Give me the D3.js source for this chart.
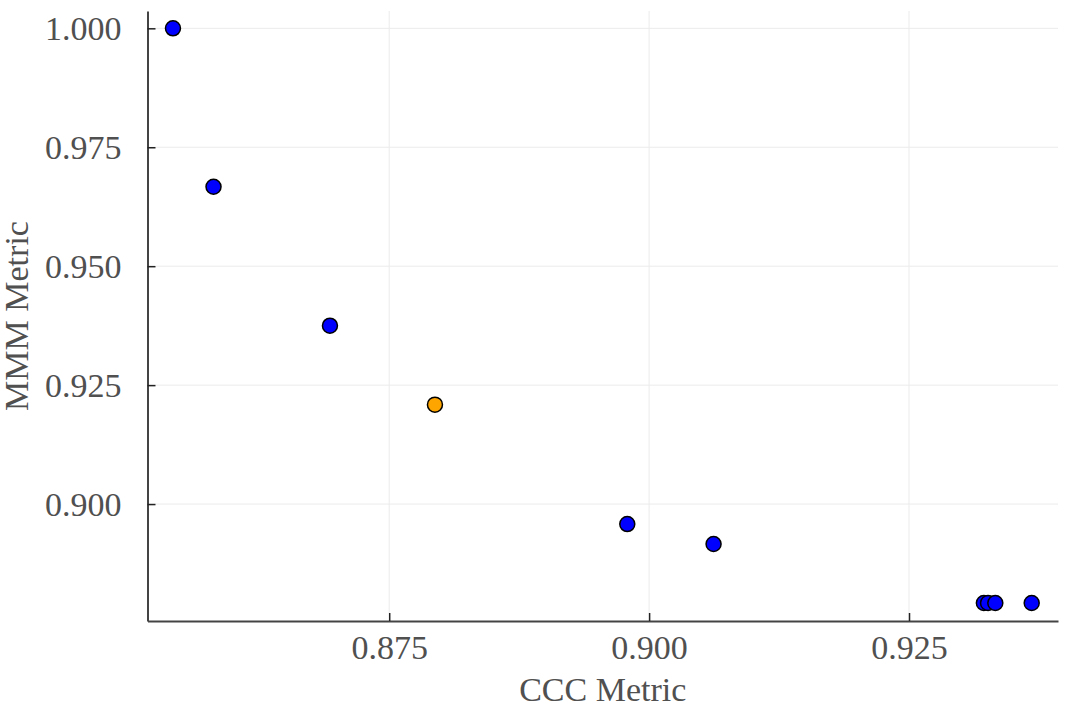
<!DOCTYPE html>
<html>
<head>
  <script src="https://d3js.org/d3.v7.min.js"></script>
  <style>
    body { margin: 0; background: #fff; }
    svg text { font-family: "Liberation Serif", "DejaVu Serif", serif; fill: #505050; }
  </style>
</head>
<body>
  <script>
    // CCC vs MMM values
    var cccValues = [0.8542, 0.8581, 0.8693, 0.8794, 0.8979, 0.9062, 0.9322, 0.9326, 0.9333, 0.9368];
    var mmmValues = [1.0000, 0.9667, 0.9375, 0.9209, 0.8958, 0.8916, 0.8792, 0.8792, 0.8792, 0.8792];
    var highlight = [false, false, false, true, false, false, false, false, false, false];
    var xTicks = [0.875, 0.900, 0.925];
    var yTicks = [0.900, 0.925, 0.950, 0.975, 1.000];

    var width = 1076, height = 727;
    var plotLeft = 147.5, plotRight = 1058, plotTop = 11, plotBottom = 621;

    var x = d3.scaleLinear().domain([0.85175, 0.93933]).range([plotLeft, plotRight]);
    var y = d3.scaleLinear().domain([0.87542, 1.00364]).range([plotBottom, plotTop]);

    var svg = d3.select("body").append("svg")
      .attr("width", width)
      .attr("height", height);

    // grid
    svg.append("g").selectAll("line").data(xTicks).enter().append("line")
      .attr("x1", function(d) { return x(d); }).attr("x2", function(d) { return x(d); })
      .attr("y1", plotTop).attr("y2", plotBottom)
      .attr("stroke", "#ebebeb").attr("stroke-width", 1);
    svg.append("g").selectAll("line").data(yTicks).enter().append("line")
      .attr("y1", function(d) { return y(d); }).attr("y2", function(d) { return y(d); })
      .attr("x1", plotLeft).attr("x2", plotRight)
      .attr("stroke", "#ebebeb").attr("stroke-width", 1);

    var xAxis = svg.append("g")
      .attr("transform", "translate(0," + plotBottom + ")")
      .call(d3.axisBottom(x).tickValues(xTicks).tickFormat(d3.format(".3f"))
        .tickSizeInner(-8).tickSizeOuter(0).tickPadding(14));
    var yAxis = svg.append("g")
      .attr("transform", "translate(" + plotLeft + ",0)")
      .call(d3.axisLeft(y).tickValues(yTicks).tickFormat(d3.format(".3f"))
        .tickSizeInner(-8).tickSizeOuter(0).tickPadding(26));

    [xAxis, yAxis].forEach(function(ax) {
      ax.select(".domain").attr("stroke", "#444").attr("stroke-width", 2);
      ax.selectAll(".tick line").attr("stroke", "#222").attr("stroke-width", 1.5);
      ax.selectAll(".tick text").attr("font-size", 34).attr("fill", "#505050");
    });
    yAxis.selectAll(".tick text").attr("dy", "0.34em");

    // points
    var pts = cccValues.map(function(v, i) {
      return { c: v, m: mmmValues[i], h: highlight[i] };
    });
    svg.append("g").selectAll("circle").data(pts).enter().append("circle")
      .attr("cx", function(d) { return x(d.c); })
      .attr("cy", function(d) { return y(d.m); })
      .attr("r", 7.5)
      .attr("fill", function(d) { return d.h ? "#ffa500" : "#0000ff"; })
      .attr("stroke", "#000")
      .attr("stroke-width", 1.5);

    // axis labels
    svg.append("text")
      .attr("x", (plotLeft + plotRight) / 2).attr("y", 701)
      .attr("text-anchor", "middle")
      .attr("font-size", 34)
      .text("CCC Metric");
    svg.append("text")
      .attr("transform", "translate(28," + (plotTop + plotBottom) / 2 + ") rotate(-90)")
      .attr("text-anchor", "middle")
      .attr("font-size", 34)
      .text("MMM Metric");
  </script>
</body>
</html>
